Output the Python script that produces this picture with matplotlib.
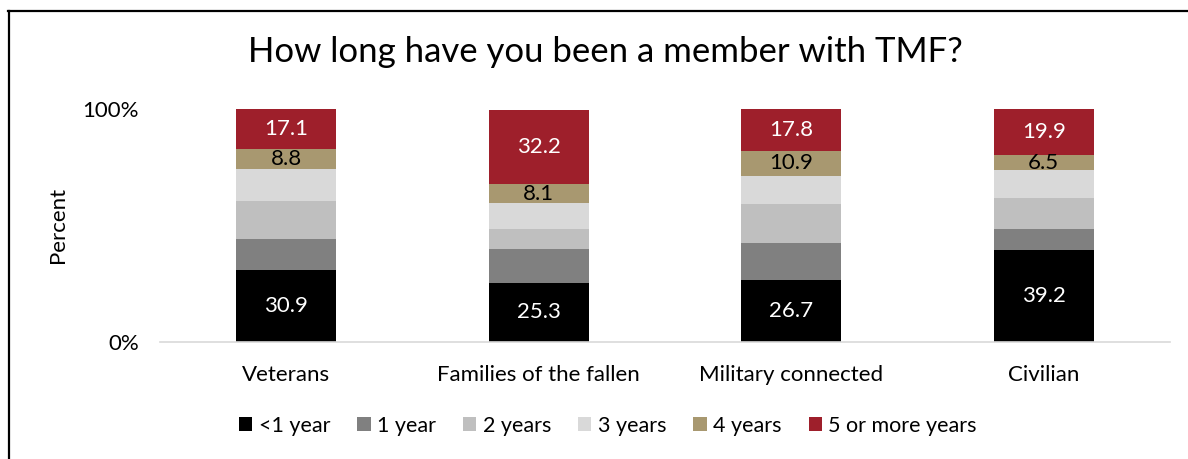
import matplotlib
matplotlib.use("Agg")
import matplotlib.pyplot as plt
from matplotlib.lines import Line2D
from matplotlib.patches import Patch
import numpy as np

categories = ["Veterans", "Families of the fallen", "Military connected", "Civilian"]
series_names = ["<1 year", "1 year", "2 years", "3 years", "4 years", "5 or more years"]
lt1 = [30.9, 25.3, 26.7, 39.2]
y1 = [13.3, 14.6, 15.9, 9.4]
y2 = [16.5, 8.5, 16.7, 13.3]
y3 = [13.5, 11.2, 12.0, 11.8]
y4 = [8.8, 8.1, 10.9, 6.5]
y5 = [17.1, 32.2, 17.8, 19.9]
labeled = {0: True, 4: True, 5: True}

colors = ["#000000", "#808080", "#bfbfbf", "#d9d9d9", "#a89870", "#9e1f2b"]
text_colors = ["white", None, None, None, "black", "white"]

plt.rcParams['font.family'] = ['Lato', 'DejaVu Sans']

W, H = 1188, 459
fig = plt.figure(figsize=(W/100, H/100), dpi=100)
ax = fig.add_axes([160/W, 1-341.5/H, 1010/W, (341.5-109.3)/H])

data = [lt1, y1, y2, y3, y4, y5]
x = np.arange(len(categories))
bottom = np.zeros(len(categories))
for i, vals in enumerate(data):
    vals = np.array(vals)
    ax.bar(x, vals, bottom=bottom, width=0.396, color=colors[i], label=series_names[i], zorder=2)
    if i in labeled:
        for xi, v, b in zip(x, vals, bottom):
            ax.text(xi, b + v/2, f"{v:.1f}", ha="center", va="center",
                    color=text_colors[i], fontsize=16)
    bottom += vals

ax.set_xlim(-0.5, 3.5)
ax.set_ylim(0, 100)
ax.set_yticks([0, 100])
ax.set_yticklabels(["0%", "100%"], fontsize=16)
ax.set_xticks(x)
ax.set_xticklabels(categories, fontsize=16)
ax.tick_params(axis="x", length=0, pad=17)
ax.tick_params(axis="y", length=0, pad=15)
for s in ["left", "right", "top"]:
    ax.spines[s].set_visible(False)
ax.spines["bottom"].set_color("#d9d9d9")
ax.spines["bottom"].set_linewidth(1.2)
ax.set_ylabel("Percent", fontsize=16)
ax.yaxis.set_label_coords((68 - 160)/1010, 0.5)

fig.text(605/W, 1-52/H, "How long have you been a member with TMF?", ha="center", va="center",
         fontsize=25)

handles = [Patch(facecolor=c, edgecolor="none") for c in colors]
fig.legend(handles, series_names, loc="center", bbox_to_anchor=(608/W, 1-426/H), ncol=6,
           frameon=False, fontsize=15.5, handlelength=0.62, handleheight=0.62,
           handletextpad=0.3, columnspacing=1.25)

fig.add_artist(Line2D([8/W, 1], [1-10.7/H, 1-10.7/H], transform=fig.transFigure,
                      color="black", linewidth=1.6))
fig.add_artist(Line2D([8.5/W, 8.5/W], [0, 1-10.7/H], transform=fig.transFigure,
                      color="black", linewidth=1.6))

fig.savefig("out.png", dpi=100)
